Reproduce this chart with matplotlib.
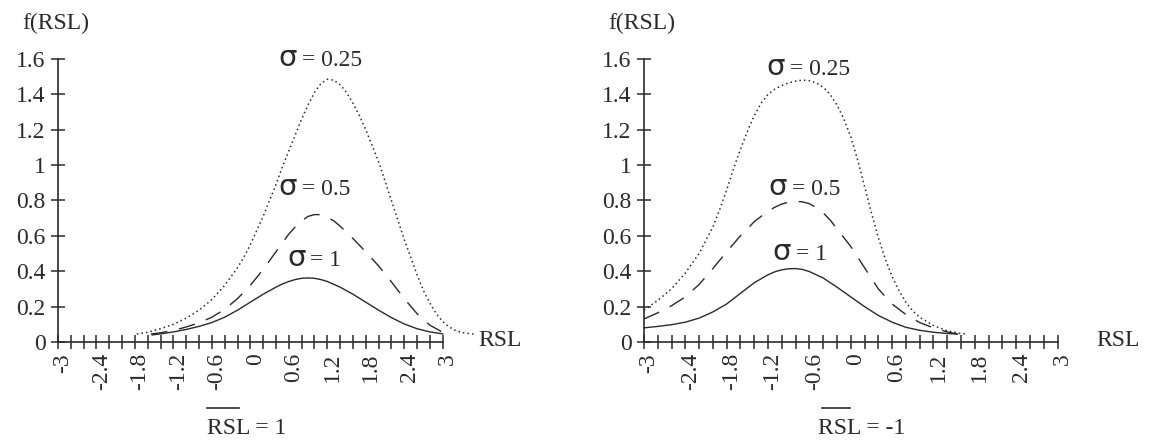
import numpy as np
import matplotlib.pyplot as plt
from matplotlib import transforms

plt.rcParams['font.family'] = ['Liberation Serif', 'DejaVu Serif']

# ---- data ----
# left panel: mean RSL = 1
x_l_025 = [-1.77, -1.6, -1.4, -1.2, -1.0, -0.8, -0.6, -0.4, -0.2, -0.1, 0.0, 0.1, 0.2, 0.3,
           0.4, 0.5, 0.6, 0.7, 0.8, 0.9, 1.0, 1.1, 1.2, 1.3, 1.4, 1.5, 1.6, 1.7, 1.8, 1.9,
           2.0, 2.1, 2.2, 2.3, 2.4, 2.5, 2.6, 2.7, 2.8, 2.9, 3.0, 3.1, 3.2, 3.3, 3.48]
f_l_025 = [0.045, 0.055, 0.075, 0.10, 0.135, 0.18, 0.24, 0.32, 0.42, 0.48, 0.55, 0.63, 0.71, 0.80,
           0.89, 0.99, 1.08, 1.17, 1.26, 1.34, 1.41, 1.46, 1.485, 1.48, 1.455, 1.41, 1.35, 1.28, 1.20, 1.11,
           1.02, 0.91, 0.80, 0.69, 0.58, 0.48, 0.38, 0.29, 0.22, 0.16, 0.115, 0.085, 0.065, 0.053, 0.045]

x_l_05 = [-1.55, -1.4, -1.2, -1.0, -0.8, -0.6, -0.4, -0.2, 0.0, 0.2, 0.4, 0.5, 0.6, 0.7, 0.8,
          0.9, 1.0, 1.1, 1.2, 1.3, 1.4, 1.5, 1.6, 1.8, 2.0, 2.2, 2.4, 2.6, 2.8, 3.0]
f_l_05 = [0.045, 0.052, 0.065, 0.085, 0.108, 0.14, 0.185, 0.245, 0.32, 0.41, 0.51, 0.56, 0.61, 0.65, 0.685,
          0.71, 0.72, 0.72, 0.705, 0.685, 0.655, 0.62, 0.585, 0.51, 0.43, 0.34, 0.245, 0.16, 0.095, 0.055]

x_l_1 = [-1.53, -1.4, -1.2, -1.0, -0.8, -0.6, -0.4, -0.2, 0.0, 0.2, 0.4, 0.5, 0.6, 0.7, 0.8,
         0.9, 1.0, 1.1, 1.2, 1.4, 1.6, 1.8, 2.0, 2.2, 2.4, 2.6, 2.8, 3.0]
f_l_1 = [0.04, 0.046, 0.057, 0.071, 0.088, 0.11, 0.14, 0.18, 0.225, 0.27, 0.31, 0.328, 0.342, 0.353, 0.36,
         0.362, 0.36, 0.353, 0.342, 0.31, 0.27, 0.225, 0.18, 0.138, 0.102, 0.075, 0.057, 0.046]

# right panel: mean RSL = -1
x_r_025 = [-3.0, -2.8, -2.6, -2.4, -2.2, -2.0, -1.9, -1.8, -1.7, -1.6, -1.5, -1.4, -1.3, -1.2, -1.1,
           -1.0, -0.9, -0.8, -0.7, -0.6, -0.5, -0.4, -0.3, -0.2, -0.1, 0.0, 0.1, 0.2, 0.3, 0.4,
           0.5, 0.6, 0.7, 0.8, 0.9, 1.0, 1.2, 1.4, 1.6, 1.7]
f_r_025 = [0.18, 0.235, 0.30, 0.39, 0.50, 0.65, 0.75, 0.86, 0.98, 1.09, 1.19, 1.28, 1.35, 1.40, 1.43,
           1.45, 1.465, 1.475, 1.48, 1.477, 1.465, 1.44, 1.40, 1.34, 1.26, 1.16, 1.03, 0.88, 0.73, 0.59,
           0.47, 0.37, 0.29, 0.225, 0.175, 0.14, 0.093, 0.063, 0.048, 0.045]

x_r_05 = [-3.0, -2.8, -2.6, -2.4, -2.2, -2.0, -1.8, -1.6, -1.4, -1.2, -1.1, -1.0, -0.9, -0.8, -0.7,
          -0.6, -0.5, -0.4, -0.3, -0.2, -0.1, 0.0, 0.2, 0.4, 0.6, 0.8, 1.0, 1.2, 1.4, 1.55]
f_r_05 = [0.13, 0.165, 0.205, 0.255, 0.325, 0.415, 0.51, 0.60, 0.68, 0.74, 0.762, 0.78, 0.79, 0.795, 0.792,
          0.782, 0.76, 0.73, 0.69, 0.64, 0.59, 0.54, 0.42, 0.30, 0.215, 0.155, 0.11, 0.08, 0.057, 0.045]

x_r_1 = [-3.0, -2.8, -2.6, -2.4, -2.2, -2.0, -1.8, -1.6, -1.4, -1.2, -1.1, -1.0, -0.9, -0.8, -0.7,
         -0.6, -0.4, -0.2, 0.0, 0.2, 0.4, 0.6, 0.8, 1.0, 1.2, 1.4, 1.55]
f_r_1 = [0.08, 0.088, 0.098, 0.112, 0.135, 0.17, 0.215, 0.275, 0.335, 0.38, 0.397, 0.408, 0.414, 0.415, 0.41,
         0.398, 0.362, 0.31, 0.255, 0.20, 0.15, 0.112, 0.083, 0.066, 0.055, 0.048, 0.045]

sigma_texts = ['= 0.25', '= 0.5', '= 1']
xtick_vals = [-3, -2.4, -1.8, -1.2, -0.6, 0, 0.6, 1.2, 1.8, 2.4, 3]
xtick_labels = ['-3', '-2.4', '-1.8', '-1.2', '-0.6', '0', '0.6', '1.2', '1.8', '2.4', '3']
ytick_vals = [0, 0.2, 0.4, 0.6, 0.8, 1.0, 1.2, 1.4, 1.6]
ytick_labels = ['0', '0.2', '0.4', '0.6', '0.8', '1', '1.2', '1.4', '1.6']

INK = '#2a2a2a'
FS = 17

fig = plt.figure(figsize=(11.52, 4.43), dpi=100)
ax_l = fig.add_axes([0.0503, 0.228, 0.334, 0.639])
ax_r = fig.add_axes([0.559, 0.228, 0.359, 0.639])


def draw_panel(ax, curves, sig_pos, mean_text, mean_x, bar_x, ylab_x, rsl_x):
    styles = [dict(ls=(0, (1, 2)), lw=1.1), dict(ls=(0, (12, 8.5)), lw=1.0), dict(ls='-', lw=1.0)]
    for (x, f), st in zip(curves, styles):
        ax.plot(x, f, color=INK, clip_on=False, solid_joinstyle='round', **st)

    ax.set_xlim(-3, 3)
    ax.set_ylim(0, 1.6)
    for s in ['top', 'right']:
        ax.spines[s].set_visible(False)
    for s in ['left', 'bottom']:
        ax.spines[s].set_color(INK)
        ax.spines[s].set_linewidth(1.2)

    ax.set_xticks(xtick_vals)
    ax.set_xticklabels(xtick_labels, rotation=90)
    ax.set_xticks(np.arange(-3, 3.01, 0.2), minor=True)
    ax.set_yticks(ytick_vals)
    ax.set_yticklabels(ytick_labels)
    ax.tick_params(which='both', direction='inout', length=10, width=1.1, color=INK,
                   labelsize=FS, labelcolor=INK)
    ax.tick_params(axis='x', pad=3)
    ax.tick_params(axis='y', pad=4)
    shift = transforms.ScaledTranslation(5 / 100, 0, fig.dpi_scale_trans)
    for lab in ax.get_xticklabels():
        lab.set_transform(lab.get_transform() + shift)

    # sigma annotations
    for (sx, sy), txt in zip(sig_pos, sigma_texts):
        ax.text(sx, sy, '\u03c3', fontsize=21, color=INK, ha='left', va='baseline',
                family=['DejaVu Sans'])
        ax.annotate(txt, xy=(sx, sy), xytext=(17, 0), textcoords='offset points',
                    fontsize=FS, color=INK, ha='left', va='baseline')

    ax.text(ylab_x, 1.124, 'f(RSL)', transform=ax.transAxes, fontsize=FS, color=INK,
            ha='left', va='center')
    ax.text(rsl_x, 0.01, 'RSL', fontsize=FS, color=INK, ha='left', va='center')

    tr = transforms.blended_transform_factory(ax.transData, ax.transAxes)
    ax.text(mean_x, -0.304, mean_text, transform=tr, fontsize=FS, color=INK,
            ha='left', va='center')
    ax.plot(bar_x, [-0.232, -0.232], transform=tr, color=INK, lw=1.2, clip_on=False)


draw_panel(ax_l,
           [(x_l_025, f_l_025), (x_l_05, f_l_05), (x_l_1, f_l_1)],
           [(0.43, 1.56), (0.43, 0.833), (0.57, 0.43)],
           'RSL = 1', -0.68, [-0.68, -0.17], -0.0935, 3.55)
draw_panel(ax_r,
           [(x_r_025, f_r_025), (x_r_05, f_r_05), (x_r_1, f_r_1)],
           [(-1.22, 1.51), (-1.20, 0.833), (-1.13, 0.465)],
           'RSL = -1', -0.48, [-0.42, -0.01], -0.087, 3.57)

fig.savefig('out.png', dpi=100)
